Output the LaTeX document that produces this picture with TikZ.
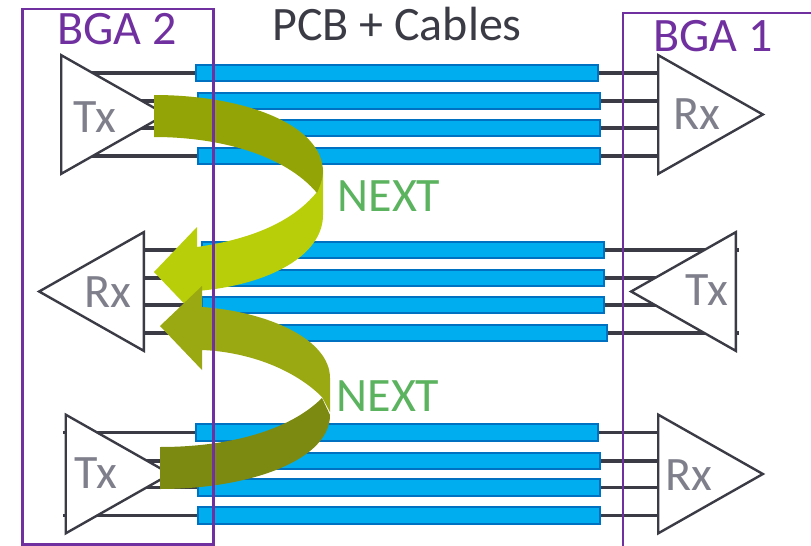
\documentclass[tikz,border=0pt]{standalone}
\usepackage{fontspec}
\setmainfont{Carlito}
\usetikzlibrary{shapes.geometric,backgrounds}

\tikzset{every picture/.style={line width=0.75pt}}
\tikzset{
  bar/.style={draw={rgb, 255:red, 0; green, 112; blue, 192 },fill={rgb, 255:red, 0; green, 174; blue, 239 },line width=1.6pt,inner sep=0pt,minimum width=302pt,minimum height=12.5pt},
  amp/.style={draw={rgb, 255:red, 59; green, 59; blue, 70 },fill=white,line width=1.8pt,isosceles triangle,isosceles triangle stretches,inner sep=0pt,minimum width=89pt,minimum height=78.5pt,anchor=lower side},
  wire/.style={draw={rgb, 255:red, 59; green, 59; blue, 70 },line width=2.6pt},
  bga/.style={draw={rgb, 255:red, 112; green, 48; blue, 160 },line width=1.8pt},
  bgalabel/.style={color={rgb, 255:red, 112; green, 48; blue, 160 },font=\fontsize{36}{36}\selectfont},
  amplabel/.style={color={rgb, 255:red, 127; green, 127; blue, 140 },font=\fontsize{36}{36}\selectfont},
  nextlabel/.style={color={rgb, 255:red, 92; green, 179; blue, 95 },font=\fontsize{36}{36}\selectfont},
}

\begin{document}
\begin{tikzpicture}[x=0.75pt,y=0.75pt,yscale=-1,xscale=1]
\useasboundingbox (0,0) rectangle (811,546);

% Bars, upper group
\draw (397,73) node (barA1) [bar] {};
\draw (399,101) node (barA2) [bar] {};
\draw (399,128) node (barA3) [bar] {};
\draw (399,156) node (barA4) [bar] {};
% Bars, middle group
\draw (403,250) node (barB1) [bar] {};
\draw (403,278) node (barB2) [bar] {};
\draw (403,305) node (barB3) [bar] {};
\draw (406,333) node (barB4) [bar] {};
% Bars, lower group
\draw (397,432.5) node (barC1) [bar] {};
\draw (399,461) node (barC2) [bar] {};
\draw (399,487.5) node (barC3) [bar] {};
\draw (399,515.5) node (barC4) [bar] {};

% Amplifiers
\draw (60,114.5) node (txTop) [amp] {};
\draw (657,114.5) node (rxTop) [amp] {};
\draw (145,291.5) node (rxMid) [amp,shape border rotate=180] {};
\draw (737,291.5) node (txMid) [amp,shape border rotate=180] {};
\draw (64.5,474) node (txLow) [amp] {};
\draw (657,474) node (rxLow) [amp] {};

\begin{scope}[on background layer]
%Straight Lines
\draw [wire] (barA1.west) -- (barA1.west -| txTop.lower side);
\draw [wire] (barA2.west) -- (barA2.west -| txTop.lower side);
\draw [wire] (barA3.west) -- (barA3.west -| txTop.lower side);
\draw [wire] (barA4.west) -- (barA4.west -| txTop.lower side);
%Straight Lines
\draw [wire] (barA1.east) -- (barA1.east -| rxTop.lower side);
\draw [wire] (barA2.east) -- (barA2.east -| rxTop.lower side);
\draw [wire] (barA3.east) -- (barA3.east -| rxTop.lower side);
\draw [wire] (barA4.east) -- (barA4.east -| rxTop.lower side);
%Straight Lines
\draw [wire] (barB1.west) -- (barB1.west -| rxMid.lower side);
\draw [wire] (barB2.west) -- (barB2.west -| rxMid.lower side);
\draw [wire] (barB3.west) -- (barB3.west -| rxMid.lower side);
\draw [wire] (barB4.west) -- (barB4.west -| rxMid.lower side);
%Straight Lines
\draw [wire,shorten >=-1.5pt] (barB1.east) -- (barB1.east -| txMid.lower side);
\draw [wire] (barB2.east) -- (barB2.east -| txMid.lower side);
\draw [wire] (barB3.east) -- (barB3.east -| txMid.lower side);
\draw [wire,shorten >=-1.5pt] (barB4.east) -- (barB4.east -| txMid.lower side);
%Straight Lines
\draw [wire,shorten >=-1.5pt] (barC1.west) -- (barC1.west -| txLow.lower side);
\draw [wire] (barC2.west) -- (barC2.west -| txLow.lower side);
\draw [wire] (barC3.west) -- (barC3.west -| txLow.lower side);
\draw [wire,shorten >=-1.5pt] (barC4.west) -- (barC4.west -| txLow.lower side);
%Straight Lines
\draw [wire] (barC1.east) -- (barC1.east -| rxLow.lower side);
\draw [wire] (barC2.east) -- (barC2.east -| rxLow.lower side);
\draw [wire] (barC3.east) -- (barC3.east -| rxLow.lower side);
\draw [wire] (barC4.east) -- (barC4.east -| rxLow.lower side);
\end{scope}

%Shape: upper ribbon, lower half
\path [fill={rgb, 255:red, 183; green, 206; blue, 8 }] (317,192) .. controls (290,225) and (245,240) .. (197,247) -- (197,227) -- (154,272) -- (197,317) -- (197,291) .. controls (270,285) and (323,255) .. (323,215) -- (323,170) -- cycle;
%Shape: upper ribbon, upper half
\path [fill={rgb, 255:red, 147; green, 165; blue, 6 }] (154,95) .. controls (245,95) and (323,125) .. (323,172) .. controls (323,178) and (320,186) .. (317,193) .. controls (285,155) and (220,137) .. (154,137) -- cycle;
%Shape: lower ribbon, lower half
\path [fill={rgb, 255:red, 124; green, 138; blue, 18 }] (322,398) .. controls (290,430) and (230,447) .. (160,447) -- (160,489) .. controls (250,489) and (330,460) .. (330,415) -- cycle;
%Shape: lower ribbon, upper half
\path [fill={rgb, 255:red, 154; green, 169; blue, 18 }] (202,307) .. controls (270,312) and (330,340) .. (330,378) -- (330,412) -- (322,397) .. controls (295,370) and (250,352) .. (202,350) -- (202,370) -- (160,326) -- (202,286) -- cycle;

%Straight Lines
\draw [bga] (22.5,9) rectangle (213.5,544.5);
\draw [bga] (811,13) -| (623,546);

% Text Node
\draw (117,29) node (bgaTwo) [bgalabel] {BGA 2};
% Text Node
\draw (713,36) node (bgaOne) [bgalabel] {BGA 1};
% Text Node
\draw (397,24) node (pcbLabel) [color={rgb, 255:red, 59; green, 59; blue, 70 },font=\fontsize{36}{36}\selectfont] {PCB + Cables};
% Text Node
\draw (389,196) node (nextTop) [nextlabel] {NEXT};
% Text Node
\draw (388,396) node (nextLow) [nextlabel] {NEXT};
% Text Node
\draw (95,117) node (txTopLabel) [amplabel] {Tx};
% Text Node
\draw (697,114) node (rxTopLabel) [amplabel] {Rx};
% Text Node
\draw (108,292) node (rxMidLabel) [amplabel] {Rx};
% Text Node
\draw (707,290) node (txMidLabel) [amplabel] {Tx};
% Text Node
\draw (96,473) node (txLowLabel) [amplabel] {Tx};
% Text Node
\draw (689,475) node (rxLowLabel) [amplabel] {Rx};

\end{tikzpicture}
\end{document}
